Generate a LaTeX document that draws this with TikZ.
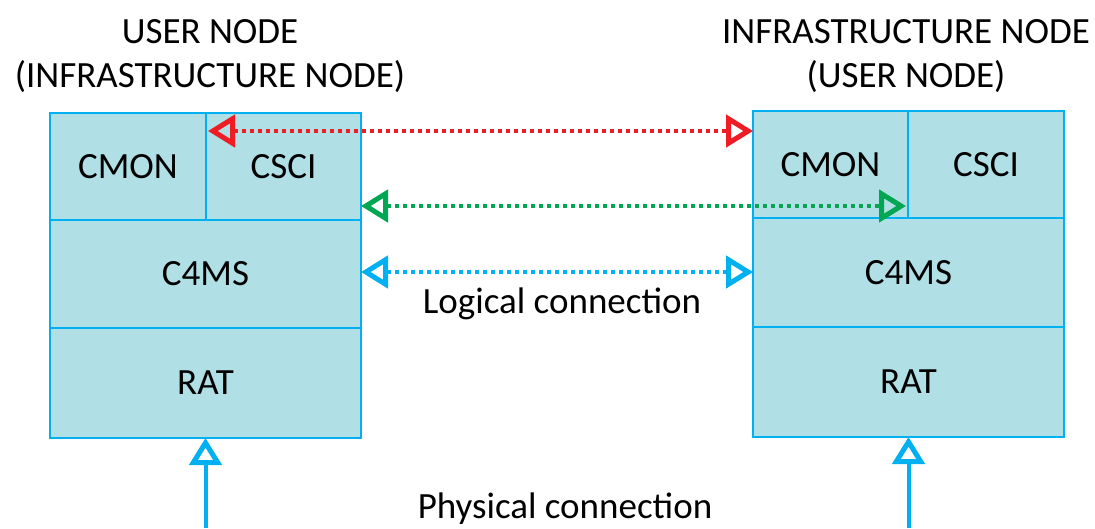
\documentclass[tikz,border=0pt]{standalone}
\usepackage{fontspec}
\setmainfont{Carlito}
\usetikzlibrary{arrows.meta}
\definecolor{cellfill}{RGB}{176,223,229}
\definecolor{edgeblue}{RGB}{0,176,240}
\definecolor{linkred}{RGB}{240,28,36}
\definecolor{linkgreen}{RGB}{0,166,81}
\tikzset{
  openhead/.tip={Triangle[open,length=27pt,width=32pt,line width=5pt]}
}
\begin{document}
\begin{tikzpicture}[x=1pt,y=-1pt,
  every node/.style={font=\fontsize{37}{44}\selectfont},
  cell/.style={draw=edgeblue, fill=cellfill, line width=2pt, anchor=north west,
    inner sep=0pt, outer sep=0pt},
  link/.style={line width=3.5pt, dash pattern=on 4pt off 4pt, openhead-openhead},
  phys/.style={draw=edgeblue, line width=4pt, -openhead},
  title/.style={align=center}]
\useasboundingbox (0,0) rectangle (1095,528);

% left stack
\node[cell, minimum width=156pt, minimum height=107pt] (lcmon) at (50,113) {CMON};
\node[cell, minimum width=155pt, minimum height=107pt] (lcsci) at (206,113) {CSCI};
\node[cell, minimum width=311pt, minimum height=108pt] (lc4ms) at (50,220) {C4MS};
\node[cell, minimum width=311pt, minimum height=110pt] (lrat) at (50,328) {RAT};

% right stack
\node[cell, minimum width=155pt, minimum height=107pt] (rcmon) at (753,111) {CMON};
\node[cell, minimum width=156pt, minimum height=107pt] (rcsci) at (908,111) {CSCI};
\node[cell, minimum width=311pt, minimum height=109pt] (rc4ms) at (753,218) {C4MS};
\node[cell, minimum width=311pt, minimum height=110pt] (rrat) at (753,327) {RAT};

% titles
\node[title] (ltitle) at (210,56) {USER NODE\\(INFRASTRUCTURE NODE)};
\node[title] (rtitle) at (906,56) {INFRASTRUCTURE NODE\\(USER NODE)};

% logical links
\coordinate (redL) at ([xshift=2pt,yshift=-18pt]lcsci.north west);
\coordinate (redR) at (rcmon.west |- redL);
\draw[link, draw=linkred] (redL) -- (redR);

\coordinate (greenL) at ([yshift=14pt]lcsci.south east);
\coordinate (greenR) at ([xshift=-2pt]rcsci.west |- greenL);
\draw[link, draw=linkgreen] (greenL) -- (greenR);

\coordinate (blueL) at (lc4ms.east |- 0,272);
\coordinate (blueR) at (rc4ms.west |- blueL);
\draw[link, draw=edgeblue] (blueL) -- (blueR);
\node[anchor=base] (logical) at (562,313) {Logical connection};

% physical links
\coordinate (lbot) at (lrat.south |- 0,528);
\coordinate (rbot) at (rrat.south |- 0,528);
\draw[phys] (lbot) -- (lrat.south);
\draw[phys] (rbot) -- (rrat.south);
\node[anchor=base] (physical) at (565,518) {Physical connection};
\end{tikzpicture}
\end{document}
